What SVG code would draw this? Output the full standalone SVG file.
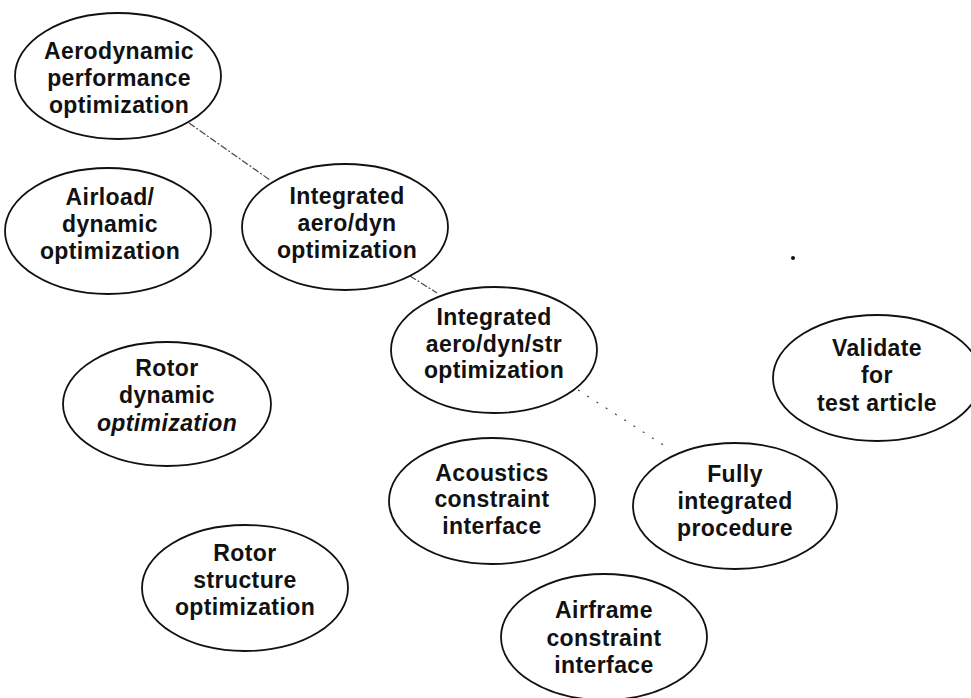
<svg xmlns="http://www.w3.org/2000/svg" width="971" height="698" viewBox="0 0 971 698">
<style>
.node ellipse{fill:none;stroke:#111;stroke-width:1.8}
.node text{font-family:"Liberation Sans",Arial,sans-serif;font-weight:bold;font-size:23px;letter-spacing:0.4px;fill:#111;text-anchor:middle}
.conn line{stroke:#444;stroke-width:1.2;fill:none}
.dash{stroke-dasharray:7 2 2 2}
.dot{stroke-dasharray:2 9;stroke:#888}
</style>
<rect width="971" height="698" fill="#fff"/>
<g id="connectors" class="conn">
<line class="dash" x1="189" y1="123" x2="270" y2="180"/>
<line class="dash" x1="410" y1="276" x2="437" y2="293"/>
<line class="dot" x1="578" y1="390" x2="665" y2="446"/>
</g>
<g id="n1" class="node"><ellipse cx="118" cy="76" rx="103" ry="63"/>
<text x="119" y="59">Aerodynamic</text><text x="119" y="86">performance</text><text x="119" y="113">optimization</text></g>
<g id="n2" class="node"><ellipse cx="108" cy="231" rx="103" ry="63"/>
<text x="110" y="205">Airload/</text><text x="110" y="232">dynamic</text><text x="110" y="259">optimization</text></g>
<g id="n3" class="node"><ellipse cx="345" cy="227" rx="103" ry="63"/>
<text x="347" y="204">Integrated</text><text x="347" y="231">aero/dyn</text><text x="347" y="258">optimization</text></g>
<g id="n4" class="node"><ellipse cx="494" cy="350" rx="103" ry="63"/>
<text x="494" y="325">Integrated</text><text x="494" y="352">aero/dyn/str</text><text x="494" y="378">optimization</text></g>
<g id="n5" class="node"><ellipse cx="167" cy="404" rx="104" ry="62"/>
<text x="167" y="376">Rotor</text><text x="167" y="403">dynamic</text><text x="167" y="431" font-style="italic">optimization</text></g>
<g id="n6" class="node"><ellipse cx="877" cy="378" rx="104" ry="63"/>
<text x="877" y="356">Validate</text><text x="877" y="383">for</text><text x="877" y="411">test article</text></g>
<g id="n7" class="node"><ellipse cx="492" cy="501" rx="103" ry="63"/>
<text x="492" y="481">Acoustics</text><text x="492" y="507">constraint</text><text x="492" y="534">interface</text></g>
<g id="n8" class="node"><ellipse cx="735" cy="506" rx="102" ry="63"/>
<text x="735" y="482">Fully</text><text x="735" y="509">integrated</text><text x="735" y="536">procedure</text></g>
<g id="n9" class="node"><ellipse cx="245" cy="588" rx="103" ry="63"/>
<text x="245" y="561">Rotor</text><text x="245" y="588">structure</text><text x="245" y="615">optimization</text></g>
<g id="n10" class="node"><ellipse cx="604" cy="637" rx="103" ry="63"/>
<text x="604" y="618">Airframe</text><text x="604" y="646">constraint</text><text x="604" y="673">interface</text></g>
<circle cx="793" cy="258" r="2" fill="#111"/>
</svg>
